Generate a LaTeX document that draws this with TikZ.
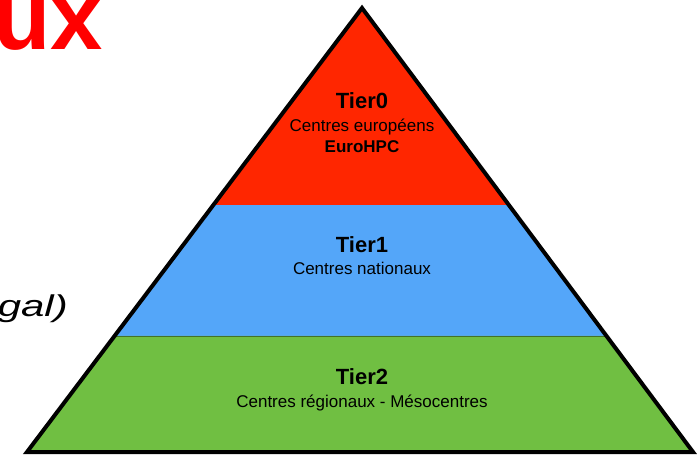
\documentclass[tikz,border=0pt]{standalone}
\usepackage{graphicx}
\usepackage{fontspec}
\setmainfont{Liberation Sans}
\usetikzlibrary{calc}
\definecolor{tierred}{RGB}{255,38,0}
\definecolor{tierblue}{RGB}{84,166,249}
\definecolor{tiergreen}{RGB}{112,191,66}
\definecolor{titlered}{RGB}{255,0,0}

\begin{document}
\begin{tikzpicture}[x=1pt, y=-1pt,
	tiername/.style={anchor=base, inner sep=0, font=\bfseries\fontsize{22}{26}\selectfont},
	tiertext/.style={anchor=base, inner sep=0, font=\fontsize{17}{20}\selectfont}]
		%%%%% START %%%%%
		\useasboundingbox (0, 0) rectangle (699, 460);
		
		\coordinate (apex) at (362, 8);
		\coordinate (bl) at (27, 452);
		\coordinate (br) at (693, 452);
		\path (apex) -- (bl) coordinate[pos=0.4437] (l0) coordinate[pos=0.7387] (l1);
		\path (apex) -- (br) coordinate[pos=0.4437] (r0) coordinate[pos=0.7387] (r1);
		
		\fill[tierred] (apex) -- (l0) -- (r0) -- cycle;
		\fill[tierblue] (l0) -- (l1) -- (r1) -- (r0) -- cycle;
		\fill[tiergreen] (l1) -- (bl) -- (br) -- (r1) -- cycle;
		\draw[line width=0.8, tiergreen!60!black] (l1) -- (r1);
		\draw[line width=4] (apex) -- (bl) -- (br) -- cycle;
		
		\node[tiername] (tier0) at (362, 108) {Tier0};
		\node[tiertext] (tier0a) at (362, 131) {Centres européens};
		\node[tiertext, font=\bfseries\fontsize{17}{20}\selectfont] (tier0b) at (362, 152) {EuroHPC};
		
		\node[tiername] (tier1) at (362, 252) {Tier1};
		\node[tiertext] (tier1a) at (362, 274) {Centres nationaux};
		
		\node[tiername] (tier2) at (362, 384) {Tier2};
		\node[tiertext] (tier2a) at (362, 407) {Centres régionaux - Mésocentres};
		
		\node[anchor=base east, inner sep=0, text=titlered, font=\bfseries\fontsize{94}{100}\selectfont] (title) at (103, 50) {ux};
		\node[anchor=base east, inner sep=0, font=\itshape\fontsize{30}{34}\selectfont] (note) at (68, 316) {\scalebox{1.4}[1]{gal)}};
		%%%%% END %%%%%
	\end{tikzpicture}
\end{document}
